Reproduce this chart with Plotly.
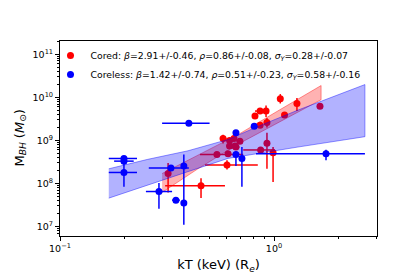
import plotly.graph_objects as go
import numpy as np

# ---- Cored (red) sample ----
cored_kT    = [1.07, 1.28, 1.64, 1.12, 0.815, 0.861, 0.918, 0.861, 0.927, 0.65, 0.693, 0.657,
               0.927, 0.866, 0.99, 0.603, 0.456, 0.32, 0.578, 0.62, 0.541, 0.61, 0.62, 0.664]
cored_kT_lo = [1.05, 1.25, 1.60, 1.10, 0.80, 0.815, 0.90, 0.84, 0.90, 0.63, 0.67, 0.64,
               0.90, 0.718, 0.97, 0.476, 0.31, 0.31, 0.56, 0.60, 0.451, 0.59, 0.60, 0.64]
cored_kT_hi = [1.09, 1.31, 1.68, 1.14, 0.83, 0.90, 0.94, 0.88, 0.95, 0.67, 0.71, 0.67,
               0.95, 1.01, 1.01, 0.84, 0.59, 0.33, 0.60, 0.64, 0.718, 0.63, 0.64, 0.69]
cored_M     = [9.3e9, 7.2e9, 6.2e9, 3.9e9, 3.7e9, 4.8e9, 4.8e9, 2.25e9, 2.6e9, 1.1e9, 9.5e8, 7.4e8,
               8.6e8, 6.0e8, 5.2e8, 2.7e8, 8.8e7, 1.7e8, 1.1e9, 1.0e9, 4.7e8, 4.9e8, 7.4e8, 7.0e8]
cored_M_lo  = [7.2e9, 4.8e9, 5.8e9, 3.6e9, 3.4e9, 4.4e9, 3.5e9, 2.1e9, 2.0e9, 1.0e9, 8.8e8, 6.9e8,
               2.2e8, 5.6e8, 1.08e8, 2.1e8, 4.6e7, 6.2e7, 8.5e8, 9.3e8, 4.4e8, 4.6e8, 6.9e8, 6.5e8]
cored_M_hi  = [1.19e10, 9.7e9, 6.6e9, 4.2e9, 4.0e9, 5.2e9, 6.5e9, 2.4e9, 3.3e9, 1.2e9, 1.0e9, 8.0e8,
               1.5e9, 6.4e8, 7.0e8, 3.45e8, 1.32e8, 2.97e8, 1.35e9, 1.1e9, 5.0e8, 5.2e8, 8.0e8, 7.5e8]

# ---- Coreless (blue) sample ----
coreless_kT    = [0.199, 0.199, 0.199, 0.40, 0.33, 0.379, 0.29, 0.348, 0.379, 0.664, 0.808, 0.664, 0.708, 1.75]
coreless_kT_lo = [0.169, 0.179, 0.169, 0.30, 0.26, 0.372, 0.252, 0.334, 0.372, 0.65, 0.79, 0.65, 0.69, 0.824]
coreless_kT_hi = [0.229, 0.221, 0.229, 0.50, 0.40, 0.386, 0.334, 0.363, 0.386, 0.68, 0.83, 0.68, 0.73, 2.66]
coreless_M     = [3.8e8, 3.3e8, 1.8e8, 2.5e9, 2.3e8, 2.55e8, 6.5e7, 4.1e7, 3.5e7, 1.5e9, 2.14e9, 4.7e8, 3.8e8, 4.9e8]
coreless_M_lo  = [3.4e8, 3.1e8, 8.4e7, 2.4e9, 2.2e8, 1.1e7, 2.6e7, 3.9e7, 3.3e7, 1.4e9, 2.0e9, 2.55e8, 8.4e7, 3.45e8]
coreless_M_hi  = [4.3e8, 3.5e8, 2.97e8, 2.6e9, 2.4e8, 4.7e8, 1.03e8, 4.3e7, 3.7e7, 1.6e9, 2.3e9, 5.5e8, 7.0e8, 6.03e8]

# ---- Fit bands (edges) ----
red_band_kT = [0.30, 0.441, 0.679, 1.04, 1.66]
red_band_lo = [6.2e7, 2.19e8, 8.17e8, 2.49e9, 8.8e9]
red_band_hi = [1.7e8, 4.45e8, 1.36e9, 4.8e9, 1.88e10]

blue_band_kT = [0.169, 0.257, 0.396, 0.610, 0.869, 1.294, 2.66]
blue_band_lo = [4.56e7, 9.27e7, 1.88e8, 3.82e8, 5.18e8, 7.01e8, 1.22e9]
blue_band_hi = [2.19e8, 3.63e8, 5.73e8, 1.05e9, 2.25e9, 5.05e9, 1.98e10]

cored_label = ("Cored: <i>β</i>=2.91+/-0.46, <i>ρ</i>=0.86+/-0.08, "
               "<i>σ</i><sub><i>Y</i></sub>=0.28+/-0.07")
coreless_label = ("Coreless: <i>β</i>=1.42+/-0.74, <i>ρ</i>=0.51+/-0.23, "
                  "<i>σ</i><sub><i>Y</i></sub>=0.58+/-0.16")
x_title = "kT (keV) (R<sub><i>e</i></sub>)"
y_title = "M<sub><i>BH</i></sub> (<i>M</i><sub>⊙</sub>)"

FONT = "DejaVu Sans"


def err_arrays(v, lo, hi):
    v = np.array(v); lo = np.array(lo); hi = np.array(hi)
    return (hi - v).tolist(), (v - lo).tolist()


fig = go.Figure()

# red points
ex_p, ex_m = err_arrays(cored_kT, cored_kT_lo, cored_kT_hi)
ey_p, ey_m = err_arrays(cored_M, cored_M_lo, cored_M_hi)
fig.add_trace(go.Scatter(
    x=cored_kT, y=cored_M, mode="markers", name=cored_label,
    marker=dict(color="red", size=7),
    error_x=dict(type="data", array=ex_p, arrayminus=ex_m, color="red", thickness=1.5, width=0),
    error_y=dict(type="data", array=ey_p, arrayminus=ey_m, color="red", thickness=1.5, width=0),
))

# red band
fig.add_trace(go.Scatter(
    x=red_band_kT + red_band_kT[::-1], y=red_band_hi + red_band_lo[::-1],
    fill="toself", fillcolor="rgba(255,0,0,0.3)", mode="lines",
    line=dict(color="rgba(255,0,0,0.4)", width=1), showlegend=False, hoverinfo="skip"))

# blue band
fig.add_trace(go.Scatter(
    x=blue_band_kT + blue_band_kT[::-1], y=blue_band_hi + blue_band_lo[::-1],
    fill="toself", fillcolor="rgba(0,0,255,0.3)", mode="lines",
    line=dict(color="rgba(0,0,255,0.4)", width=1), showlegend=False, hoverinfo="skip"))

# blue points
ex_p, ex_m = err_arrays(coreless_kT, coreless_kT_lo, coreless_kT_hi)
ey_p, ey_m = err_arrays(coreless_M, coreless_M_lo, coreless_M_hi)
fig.add_trace(go.Scatter(
    x=coreless_kT, y=coreless_M, mode="markers", name=coreless_label,
    marker=dict(color="blue", size=7),
    error_x=dict(type="data", array=ex_p, arrayminus=ex_m, color="blue", thickness=1.5, width=0),
    error_y=dict(type="data", array=ey_p, arrayminus=ey_m, color="blue", thickness=1.5, width=0),
))

x_major = [0.1, 1]
x_major_text = ["10<sup>−1</sup>", "10<sup>0</sup>"]
x_minor = [0.2, 0.3, 0.4, 0.5, 0.6, 0.7, 0.8, 0.9, 2, 3]
y_major = [1e7, 1e8, 1e9, 1e10, 1e11]
y_major_text = ["10<sup>7</sup>", "10<sup>8</sup>", "10<sup>9</sup>", "10<sup>10</sup>", "10<sup>11</sup>"]
y_minor = [m * 10 ** e for e in range(6, 12) for m in range(2, 10)]

fig.update_layout(
    width=411, height=274,
    margin=dict(l=52, r=42, t=33, b=35),
    paper_bgcolor="white", plot_bgcolor="white",
    font=dict(family=FONT, size=9.5, color="black"),
    showlegend=True,
    legend=dict(x=-0.03, y=1.0, xanchor="left", yanchor="top",
                bgcolor="rgba(0,0,0,0)", font=dict(family=FONT, size=9.3),
                itemwidth=30, tracegroupgap=0),
    xaxis=dict(type="log", range=[-1, 0.4813],
               tickmode="array", tickvals=x_major, ticktext=x_major_text,
               ticks="outside", ticklen=4, tickwidth=1, tickcolor="black",
               minor=dict(tickmode="array", tickvals=x_minor, ticks="outside",
                          ticklen=2, tickwidth=0.8, tickcolor="black", showgrid=False),
               showgrid=False, zeroline=False,
               showline=True, linecolor="black", linewidth=1, mirror=True,
               title=dict(text=x_title, font=dict(family=FONT, size=13), standoff=6),
               tickfont=dict(family=FONT, size=9.5)),
    yaxis=dict(type="log", range=[6.78, 11.308],
               tickmode="array", tickvals=y_major, ticktext=y_major_text,
               ticks="outside", ticklen=4, tickwidth=1, tickcolor="black",
               minor=dict(tickmode="array", tickvals=y_minor, ticks="outside",
                          ticklen=2, tickwidth=0.8, tickcolor="black", showgrid=False),
               showgrid=False, zeroline=False,
               showline=True, linecolor="black", linewidth=1, mirror=True,
               tickfont=dict(family=FONT, size=9.5)),
    annotations=[dict(text=y_title, textangle=-90, showarrow=False,
                      xref="paper", yref="paper", x=-0.126, y=0.5,
                      xanchor="center", yanchor="middle",
                      font=dict(family=FONT, size=13))],
)

fig.write_html("out.html")
